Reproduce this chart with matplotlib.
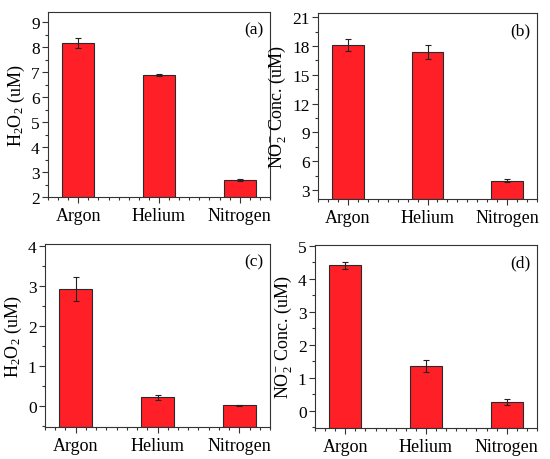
import matplotlib
matplotlib.use("Agg")
import matplotlib.pyplot as plt
from matplotlib.ticker import MultipleLocator

plt.rcParams['font.family'] = ['Liberation Serif', 'DejaVu Serif']
plt.rcParams['mathtext.fontset'] = 'custom'
plt.rcParams['mathtext.rm'] = 'Liberation Serif'
plt.rcParams['mathtext.it'] = 'Liberation Serif:italic'

categories = ["Argon", "Helium", "Nitrogen"]

h2o2_a = [8.15, 6.88, 2.69]
h2o2_a_err = [0.20, 0.05, 0.03]
no2_b = [18.1, 17.4, 3.95]
no2_b_err = [0.6, 0.75, 0.15]
h2o2_c = [2.91, 0.22, 0.02]
h2o2_c_err = [0.30, 0.06, 0.01]
no2_d = [4.41, 1.36, 0.26]
no2_d_err = [0.10, 0.18, 0.09]

panels = [
    dict(vals=h2o2_a, err=h2o2_a_err, label="(a)", ylabel=r"H$_2$O$_2$ (uM)",
         ylim=(2, 9.4), major=1, minor=0.5, rect=(48, 13, 270, 198)),
    dict(vals=no2_b, err=no2_b_err, label="(b)", ylabel=r"NO$_2^{-}$ Conc. (uM)",
         ylim=(2.05, 21.45), major=3, minor=1.5, rect=(318, 14, 537, 200)),
    dict(vals=h2o2_c, err=h2o2_c_err, label="(c)", ylabel=r"H$_2$O$_2$ (uM)",
         ylim=(-0.52, 4.04), major=1, minor=0.5, rect=(45, 245, 270, 428)),
    dict(vals=no2_d, err=no2_d_err, label="(d)", ylabel=r"NO$_2^{-}$ Conc. (uM)",
         ylim=(-0.53, 5.03), major=1, minor=0.5, rect=(315, 246, 537, 429)),
]

W, H = 550, 460
fig = plt.figure(figsize=(W / 100, H / 100), dpi=100)
x = [1, 2, 3]
frame_col = '#333333'

for p in panels:
    l, t, r, b = p["rect"]
    ax = fig.add_axes([l / W, 1 - b / H, (r - l) / W, (b - t) / H])
    base = p["ylim"][0]
    ax.bar(x, [v - base for v in p["vals"]], bottom=base, width=0.4,
           color='#FF1F26', edgecolor='#2a2a2a', linewidth=0.8, zorder=2)
    ax.errorbar(x, p["vals"], yerr=p["err"], fmt='none', ecolor='#222222',
                elinewidth=0.8, capsize=2.5, capthick=0.8, zorder=3)
    ax.set_xlim(0.625, 3.375)
    ax.set_ylim(*p["ylim"])
    ax.set_xticks(x)
    ax.set_xticklabels(categories)
    ax.xaxis.set_minor_locator(MultipleLocator(0.125))
    ax.yaxis.set_major_locator(MultipleLocator(p["major"]))
    ax.yaxis.set_minor_locator(MultipleLocator(p["minor"]))
    ax.tick_params(axis='both', which='major', direction='out', length=4,
                   width=0.8, color=frame_col, labelsize=12.5, pad=2)
    ax.tick_params(axis='both', which='minor', direction='out', length=2.5,
                   width=0.8, color=frame_col)
    ax.tick_params(axis='x', which='major', labelsize=13, pad=3)
    ax.tick_params(top=False, right=False, which='both')
    for s in ax.spines.values():
        s.set_color(frame_col)
        s.set_linewidth(0.8)
    ax.set_ylabel(p["ylabel"], fontsize=13, labelpad=3)
    ax.text(0.97, 0.95, p["label"], transform=ax.transAxes, ha='right',
            va='top', fontsize=12.5)

fig.savefig("out.png", dpi=100)
